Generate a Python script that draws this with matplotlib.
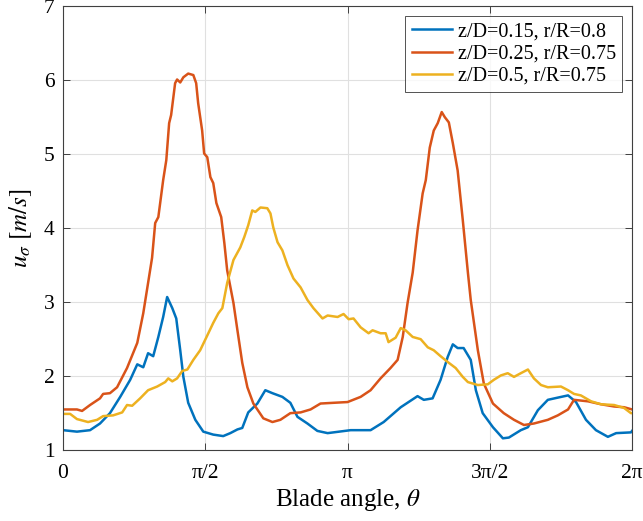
import numpy as np
import matplotlib
matplotlib.use("Agg")
from matplotlib import pyplot as plt

# blade angle in units of pi, velocity in m/s
th_a = [0.000, 0.049, 0.095, 0.130, 0.165, 0.201, 0.236, 0.261, 0.282, 0.299, 0.317, 0.335,
        0.352, 0.366, 0.384, 0.398, 0.412, 0.423, 0.440, 0.465, 0.493, 0.528, 0.563, 0.588,
        0.613, 0.630, 0.651, 0.683, 0.711, 0.736, 0.771, 0.799, 0.824, 0.859, 0.894, 0.930,
        1.011, 1.081, 1.127, 1.187, 1.246, 1.268, 1.299, 1.327, 1.352, 1.370, 1.387, 1.408,
        1.433, 1.451, 1.475, 1.511, 1.546, 1.567, 1.609, 1.634, 1.669, 1.704, 1.739, 1.775,
        1.803, 1.838, 1.873, 1.915, 1.944, 1.996, 2.000]
u_a = [1.27, 1.25, 1.27, 1.36, 1.50, 1.72, 1.95, 2.16, 2.12, 2.31, 2.27, 2.53,
       2.80, 3.07, 2.92, 2.78, 2.35, 1.99, 1.64, 1.41, 1.25, 1.21, 1.19, 1.23,
       1.28, 1.30, 1.51, 1.63, 1.81, 1.77, 1.72, 1.64, 1.45, 1.36, 1.26, 1.23,
       1.27, 1.27, 1.38, 1.58, 1.73, 1.68, 1.70, 1.95, 2.26, 2.43, 2.38, 2.38,
       2.22, 1.81, 1.50, 1.31, 1.16, 1.17, 1.27, 1.31, 1.54, 1.68, 1.71, 1.74,
       1.65, 1.41, 1.27, 1.18, 1.23, 1.24, 1.26]

th_b = [0.000, 0.049, 0.067, 0.095, 0.130, 0.141, 0.165, 0.190, 0.225, 0.261, 0.282, 0.299,
        0.313, 0.324, 0.335, 0.352, 0.363, 0.373, 0.380, 0.394, 0.401, 0.412, 0.423, 0.440,
        0.458, 0.468, 0.475, 0.489, 0.496, 0.507, 0.518, 0.528, 0.539, 0.556, 0.567, 0.577,
        0.599, 0.613, 0.630, 0.648, 0.669, 0.704, 0.736, 0.764, 0.799, 0.835, 0.870, 0.905,
        0.951, 1.000, 1.046, 1.081, 1.116, 1.151, 1.176, 1.194, 1.211, 1.229, 1.246, 1.264,
        1.275, 1.289, 1.303, 1.317, 1.331, 1.342, 1.356, 1.370, 1.387, 1.405, 1.423, 1.433,
        1.458, 1.479, 1.511, 1.549, 1.585, 1.620, 1.655, 1.704, 1.739, 1.775, 1.796, 1.845,
        1.891, 1.937, 1.972, 2.000]
u_b = [1.55, 1.55, 1.53, 1.61, 1.70, 1.76, 1.77, 1.85, 2.11, 2.45, 2.85, 3.26,
       3.60, 4.07, 4.15, 4.65, 4.92, 5.42, 5.53, 5.96, 6.01, 5.97, 6.04, 6.09,
       6.07, 5.96, 5.69, 5.32, 5.01, 4.96, 4.69, 4.61, 4.34, 4.15, 3.80, 3.43,
       2.99, 2.62, 2.18, 1.85, 1.63, 1.43, 1.38, 1.41, 1.50, 1.51, 1.55, 1.63,
       1.64, 1.65, 1.72, 1.81, 1.97, 2.11, 2.22, 2.53, 2.99, 3.40, 3.97, 4.47,
       4.65, 5.09, 5.32, 5.42, 5.57, 5.50, 5.43, 5.15, 4.78, 4.11, 3.40, 3.03,
       2.35, 1.90, 1.63, 1.50, 1.41, 1.34, 1.36, 1.41, 1.47, 1.55, 1.68, 1.66,
       1.62, 1.59, 1.58, 1.55]

th_c = [0.000, 0.025, 0.049, 0.088, 0.120, 0.141, 0.176, 0.208, 0.225, 0.243, 0.271, 0.299,
        0.331, 0.359, 0.370, 0.384, 0.401, 0.419, 0.437, 0.458, 0.482, 0.507, 0.528, 0.546,
        0.560, 0.577, 0.599, 0.623, 0.637, 0.651, 0.665, 0.676, 0.694, 0.718, 0.729, 0.739,
        0.754, 0.771, 0.789, 0.810, 0.835, 0.859, 0.880, 0.912, 0.930, 0.965, 0.986, 1.004,
        1.021, 1.046, 1.074, 1.088, 1.116, 1.134, 1.144, 1.169, 1.187, 1.204, 1.229, 1.257,
        1.282, 1.303, 1.327, 1.356, 1.380, 1.405, 1.423, 1.458, 1.493, 1.514, 1.539, 1.563,
        1.585, 1.609, 1.634, 1.655, 1.680, 1.704, 1.750, 1.775, 1.796, 1.820, 1.856, 1.891,
        1.937, 1.972, 1.996, 2.000]
u_c = [1.49, 1.49, 1.42, 1.38, 1.41, 1.46, 1.47, 1.51, 1.61, 1.60, 1.70, 1.81,
       1.86, 1.92, 1.97, 1.93, 1.97, 2.07, 2.09, 2.22, 2.35, 2.55, 2.72, 2.85,
       2.92, 3.26, 3.57, 3.74, 3.88, 4.04, 4.24, 4.22, 4.28, 4.27, 4.20, 4.01,
       3.81, 3.70, 3.50, 3.32, 3.20, 3.03, 2.92, 2.78, 2.82, 2.80, 2.84, 2.77,
       2.78, 2.66, 2.58, 2.62, 2.58, 2.58, 2.46, 2.52, 2.65, 2.62, 2.53, 2.50,
       2.39, 2.35, 2.27, 2.18, 2.11, 1.99, 1.92, 1.88, 1.89, 1.95, 2.01, 2.04,
       1.99, 2.04, 2.09, 1.97, 1.88, 1.85, 1.86, 1.81, 1.76, 1.74, 1.66, 1.62,
       1.61, 1.57, 1.50, 1.50]

labels = ["z/D=0.15, r/R=0.8", "z/D=0.25, r/R=0.75", "z/D=0.5, r/R=0.75"]
colors = ["#0072BD", "#D95319", "#EDB120"]
xticks = [0, 0.5, 1, 1.5, 2]
xticklabels = ["0", "π/2", "π", "3π/2", "2π"]

plt.rcParams['font.family'] = ['Liberation Serif', 'DejaVu Serif']
plt.rcParams['mathtext.fontset'] = 'stix'

fig = plt.figure(figsize=(6.43, 5.21), dpi=100)
ax = fig.add_axes([0.098, 0.136, 0.885, 0.852])

for th, u, lab, c in zip([th_a, th_b, th_c], [u_a, u_b, u_c], labels, colors):
    ax.plot(np.pi * np.array(th), u, color=c, lw=1.8, label=lab)

ax.set_xlim(0, 2 * np.pi)
ax.set_ylim(1, 7)
ax.set_xticks(np.pi * np.array(xticks))
ax.set_xticklabels(xticklabels)
ax.set_yticks(range(1, 8))
ax.grid(True, color='#e0e0e0', lw=0.8)
ax.tick_params(direction='in', top=True, right=True, labelsize=15.5, length=5,
               color='#404040', width=0.7)
ax.tick_params(axis='x', pad=10)
ax.tick_params(axis='y', pad=6)
for s in ax.spines.values():
    s.set_color('#404040')
    s.set_linewidth(0.8)
ax.set_xlabel("Blade angle, $\\theta$", fontsize=18, labelpad=3)
ax.set_ylabel("$u_\\sigma\\ [m/s]$", fontsize=18, labelpad=7)

leg = ax.legend(loc='upper right', fontsize=14.5, frameon=True, fancybox=False,
                handlelength=2.0, handletextpad=0.3, borderpad=0.3, labelspacing=0.15,
                borderaxespad=0.5)
leg.get_frame().set_edgecolor('#262626')
leg.get_frame().set_linewidth(0.7)

plt.savefig("out.png", dpi=100)
